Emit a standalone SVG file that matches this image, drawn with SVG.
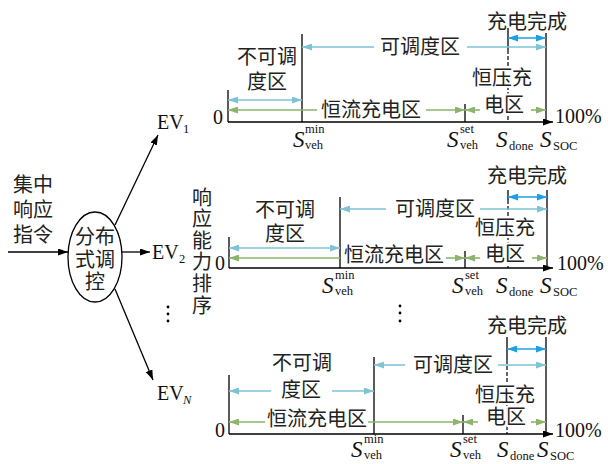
<svg xmlns="http://www.w3.org/2000/svg" width="608" height="464" viewBox="0 0 608 464">
<style>
.ln{stroke:#000;stroke-width:1.3;fill:none}
.dl{stroke:#000;stroke-width:1.2;fill:none;stroke-dasharray:4 2}
.cy{stroke:#7FC3D6;stroke-width:1.6;fill:none}
.gr{stroke:#8DB46C;stroke-width:1.6;fill:none}
.bb{stroke:#1BA1E2;stroke-width:1.6;fill:none}
.zh{font-family:"Noto Sans CJK SC",sans-serif;font-size:20px;fill:#222}
.tm{font-family:"Liberation Serif",serif;font-size:20px;fill:#111}
.S{font-family:"Liberation Serif",serif;font-style:italic;font-size:23px;fill:#111}
.sb{font-family:"Liberation Serif",serif;font-size:12.5px;fill:#111}
.h{paint-order:stroke;stroke:#fff;stroke-width:4px;stroke-linejoin:round}
.m{text-anchor:middle}
.e{text-anchor:end}
</style>
<defs>
<marker id="mc" viewBox="0 0 10 7" refX="10" refY="3.5" markerWidth="11" markerHeight="7" markerUnits="userSpaceOnUse" orient="auto-start-reverse"><path d="M0,0 L10,3.5 L0,7 z" fill="#7FC3D6"/></marker>
<marker id="mg" viewBox="0 0 10 7" refX="10" refY="3.5" markerWidth="11" markerHeight="7" markerUnits="userSpaceOnUse" orient="auto-start-reverse"><path d="M0,0 L10,3.5 L0,7 z" fill="#8DB46C"/></marker>
<marker id="mb" viewBox="0 0 10 7" refX="10" refY="3.5" markerWidth="11" markerHeight="7" markerUnits="userSpaceOnUse" orient="auto-start-reverse"><path d="M0,0 L10,3.5 L0,7 z" fill="#1BA1E2"/></marker>
<marker id="mk" viewBox="0 0 10 7" refX="10" refY="3.5" markerWidth="10" markerHeight="7" markerUnits="userSpaceOnUse" orient="auto-start-reverse"><path d="M0,0 L10,3.5 L0,7 z" fill="#000"/></marker>
</defs>
<rect width="608" height="464" fill="#fff"/>

<g id="input">
<text class="zh"><tspan x="13" y="192">集中</tspan><tspan x="13" y="217">响应</tspan><tspan x="13" y="242">指令</tspan></text>
</g>

<g id="controller">
<ellipse cx="95" cy="257" rx="27" ry="45" class="ln"/>
<text class="zh m"><tspan x="95" y="244">分布</tspan><tspan x="95" y="267">式调</tspan><tspan x="95" y="289">控</tspan></text>
</g>

<g id="ev1"><text class="tm" x="157" y="129">EV</text><text class="sb" x="183" y="133">1</text></g>
<g id="ev2"><text class="tm" x="152" y="259">EV</text><text class="sb" x="179" y="263">2</text></g>
<g id="evn"><text class="tm" x="157" y="400">EV</text><text class="sb" x="183" y="404" font-style="italic">N</text></g>
<g id="dots-left" fill="#000"><circle cx="168" cy="307" r="1.4"/><circle cx="168" cy="314" r="1.4"/><circle cx="168" cy="321" r="1.4"/></g>

<g id="ranking">
<text class="zh" x="202" y="187" writing-mode="vertical-rl" letter-spacing="1.6">响应能力排序</text>
</g>
<g id="dots-mid" fill="#000"><circle cx="400" cy="306" r="1.4"/><circle cx="400" cy="313" r="1.4"/><circle cx="400" cy="321" r="1.4"/></g>

<g id="connectors">
<line class="ln" x1="8" y1="252" x2="68" y2="252" marker-end="url(#mk)"/>
<line class="ln" x1="115" y1="225" x2="158" y2="135" marker-end="url(#mk)"/>
<line class="ln" x1="122" y1="252" x2="150" y2="252" marker-end="url(#mk)"/>
<line class="ln" x1="115" y1="289" x2="153" y2="380" marker-end="url(#mk)"/>
</g>

<!-- Panel 1 -->
<g id="panel1">
<line class="ln" x1="228" y1="90" x2="228" y2="122"/>
<line class="ln" x1="302" y1="34" x2="302" y2="122"/>
<line class="ln" x1="465" y1="104" x2="465" y2="122"/>
<line class="ln" x1="508" y1="28" x2="508" y2="50"/>
<line class="dl" x1="508" y1="50" x2="508" y2="122"/>
<line class="ln" x1="546" y1="33" x2="546" y2="122"/>
<line class="ln" x1="228" y1="122" x2="553" y2="122" marker-end="url(#mk)"/>
<text class="tm e" x="223" y="124">0</text>
<text class="tm" x="555" y="123">100%</text>
<line class="cy" x1="228" y1="100" x2="302" y2="100" marker-start="url(#mc)" marker-end="url(#mc)"/>
<text class="zh m"><tspan x="267" y="64">不可调</tspan><tspan x="267" y="89">度区</tspan></text>
<line class="cy" x1="302" y1="47" x2="374" y2="47" marker-start="url(#mc)"/>
<text class="zh m" x="420" y="54">可调度区</text>
<line class="cy" x1="467" y1="47" x2="546" y2="47" marker-end="url(#mc)"/>
<line class="gr" x1="228" y1="110" x2="317" y2="110" marker-start="url(#mg)"/>
<text class="zh m" x="371" y="117">恒流充电区</text>
<line class="gr" x1="426" y1="110" x2="465" y2="110" marker-end="url(#mg)"/>
<line class="gr" x1="465" y1="110" x2="480" y2="110" marker-start="url(#mg)"/>
<line class="gr" x1="531" y1="110" x2="546" y2="110" marker-end="url(#mg)"/>
<text class="zh m h"><tspan x="502" y="85">恒压充</tspan><tspan x="504" y="112">电区</tspan></text>
<text class="zh m" x="527" y="29">充电完成</text>
<line class="bb" x1="508" y1="38" x2="546" y2="38" marker-start="url(#mb)" marker-end="url(#mb)"/>
<text class="S" x="293" y="147">S</text><text class="sb" x="305" y="133">min</text><text class="sb" x="305" y="149">veh</text>
<text class="S" x="447" y="147">S</text><text class="sb" x="460" y="133">set</text><text class="sb" x="460" y="149">veh</text>
<text class="S" x="496" y="147">S</text><text class="sb" x="509" y="150">done</text>
<text class="S" x="540" y="147">S</text><text class="sb" x="553" y="150">SOC</text>
</g>

<!-- Panel 2 -->
<g id="panel2">
<line class="ln" x1="229" y1="237" x2="229" y2="268"/>
<line class="ln" x1="340" y1="197" x2="340" y2="268"/>
<line class="ln" x1="465" y1="251" x2="465" y2="268"/>
<line class="ln" x1="508" y1="190" x2="508" y2="200"/>
<line class="dl" x1="508" y1="200" x2="508" y2="268"/>
<line class="ln" x1="547" y1="190" x2="547" y2="268"/>
<line class="ln" x1="229" y1="268" x2="553" y2="268" marker-end="url(#mk)"/>
<text class="tm e" x="225" y="270">0</text>
<text class="tm" x="557" y="270">100%</text>
<line class="cy" x1="229" y1="248" x2="340" y2="248" marker-start="url(#mc)" marker-end="url(#mc)"/>
<text class="zh m"><tspan x="285" y="217">不可调</tspan><tspan x="285" y="241">度区</tspan></text>
<line class="cy" x1="340" y1="209" x2="386" y2="209" marker-start="url(#mc)"/>
<text class="zh m" x="435" y="216">可调度区</text>
<line class="cy" x1="480" y1="209" x2="547" y2="209" marker-end="url(#mc)"/>
<line class="gr" x1="229" y1="258" x2="340" y2="258" marker-start="url(#mg)"/>
<text class="zh m" x="394" y="262">恒流充电区</text>
<line class="gr" x1="446" y1="258" x2="465" y2="258" marker-end="url(#mg)"/>
<line class="gr" x1="465" y1="258" x2="480" y2="258" marker-start="url(#mg)"/>
<line class="gr" x1="532" y1="258" x2="547" y2="258" marker-end="url(#mg)"/>
<text class="zh m h"><tspan x="505" y="235">恒压充</tspan><tspan x="505" y="261">电区</tspan></text>
<text class="zh m" x="527" y="183">充电完成</text>
<line class="bb" x1="508" y1="197" x2="547" y2="197" marker-start="url(#mb)" marker-end="url(#mb)"/>
<text class="S" x="322" y="293">S</text><text class="sb" x="335" y="279">min</text><text class="sb" x="335" y="295">veh</text>
<text class="S" x="452" y="293">S</text><text class="sb" x="465" y="279">set</text><text class="sb" x="465" y="295">veh</text>
<text class="S" x="496" y="293">S</text><text class="sb" x="509" y="296">done</text>
<text class="S" x="540" y="293">S</text><text class="sb" x="553" y="296">SOC</text>
</g>

<!-- Panel 3 -->
<g id="panel3">
<line class="ln" x1="229" y1="375" x2="229" y2="434"/>
<line class="ln" x1="374" y1="357" x2="374" y2="434"/>
<line class="ln" x1="463" y1="415" x2="463" y2="434"/>
<line class="ln" x1="507" y1="337" x2="507" y2="360"/>
<line class="dl" x1="507" y1="360" x2="507" y2="434"/>
<line class="ln" x1="546" y1="337" x2="546" y2="434"/>
<line class="ln" x1="229" y1="434" x2="553" y2="434" marker-end="url(#mk)"/>
<text class="tm e" x="225" y="437">0</text>
<text class="tm" x="555" y="437">100%</text>
<text class="zh m"><tspan x="302" y="370">不可调</tspan><tspan x="301" y="397">度区</tspan></text>
<line class="cy" x1="229" y1="391" x2="271" y2="391" marker-start="url(#mc)"/>
<line class="cy" x1="332" y1="391" x2="374" y2="391" marker-end="url(#mc)"/>
<line class="cy" x1="374" y1="365" x2="405" y2="365" marker-start="url(#mc)"/>
<text class="zh m" x="453" y="372">可调度区</text>
<line class="cy" x1="498" y1="365" x2="546" y2="365" marker-end="url(#mc)"/>
<line class="gr" x1="229" y1="422" x2="265" y2="422" marker-start="url(#mg)"/>
<text class="zh m" x="317" y="426">恒流充电区</text>
<line class="gr" x1="368" y1="422" x2="463" y2="422" marker-end="url(#mg)"/>
<line class="gr" x1="463" y1="422" x2="478" y2="422" marker-start="url(#mg)"/>
<line class="gr" x1="531" y1="422" x2="546" y2="422" marker-end="url(#mg)"/>
<text class="zh m h"><tspan x="505" y="402">恒压充</tspan><tspan x="506" y="424">电区</tspan></text>
<text class="zh m" x="527" y="333">充电完成</text>
<line class="bb" x1="507" y1="349" x2="546" y2="349" marker-start="url(#mb)" marker-end="url(#mb)"/>
<text class="S" x="351" y="457">S</text><text class="sb" x="364" y="443">min</text><text class="sb" x="364" y="459">veh</text>
<text class="S" x="450" y="457">S</text><text class="sb" x="463" y="443">set</text><text class="sb" x="463" y="459">veh</text>
<text class="S" x="497" y="457">S</text><text class="sb" x="510" y="460">done</text>
<text class="S" x="537" y="457">S</text><text class="sb" x="550" y="460">SOC</text>
</g>
</svg>
